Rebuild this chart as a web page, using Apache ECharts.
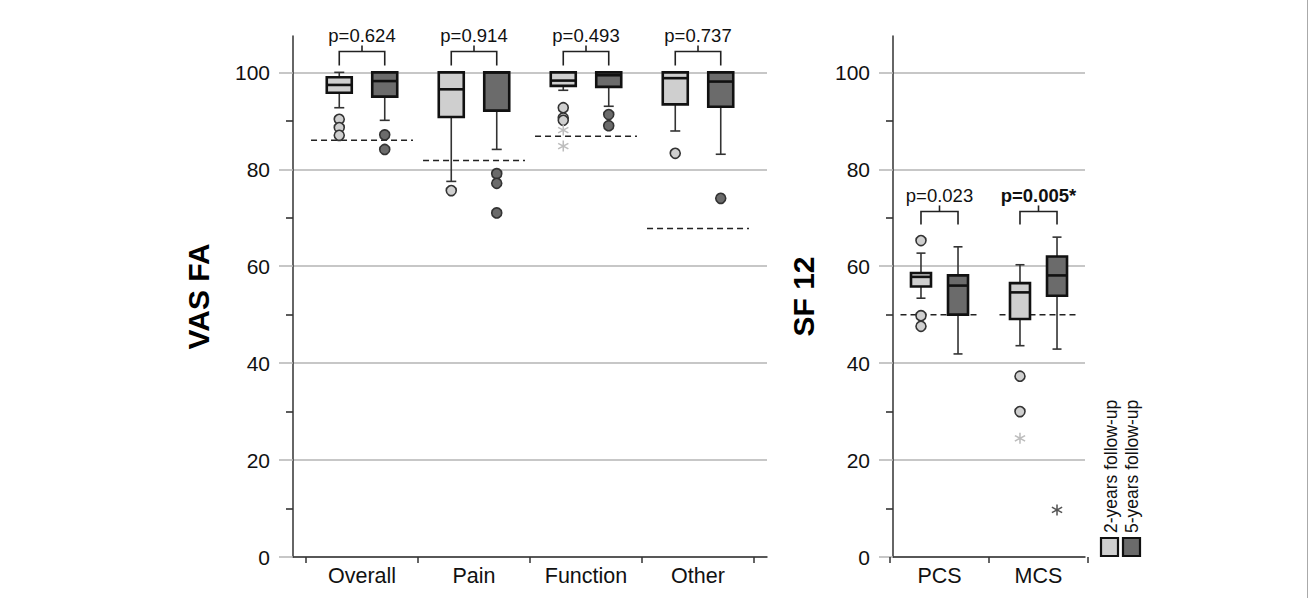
<!DOCTYPE html>
<html><head><meta charset="utf-8">
<script src="https://cdn.jsdelivr.net/npm/echarts@6/dist/echarts.min.js"></script>
<style>html,body{margin:0;padding:0;background:#fff}#chart{width:1310px;height:598px}</style>
</head><body><div id="chart"></div>
<script>
// ---------------- DATA ----------------
const vasCategories = ['Overall', 'Pain', 'Function', 'Other'];
// [min, Q1, median, Q3, max]
const vas2yBoxes = [[92.7, 95.8, 97.4, 99.0, 100], [77.5, 90.8, 96.5, 100, 100], [96.3, 97.2, 98.3, 100, 100], [87.9, 93.4, 98.8, 100, 100]];
const vas5yBoxes = [[90.1, 95.0, 98.2, 100, 100], [84.1, 92.1, 100, 100, 100], [93.0, 97.0, 99.4, 100, 100], [83.1, 92.9, 98.1, 100, 100]];
const vas2yOutliers = [[90.3, 88.6, 87.0], [75.6], [92.7, 90.6, 90.1], [83.3]];
const vas2yExtremes = [[], [], [88.1, 84.8], []];
const vas5yOutliers = [[87.1, 84.1], [79.1, 77.1, 71.0], [91.3, 89.0], [74.0]];
const vas5yExtremes = [[], [], [], []];
const vasNorms = [86.0, 81.8, 86.8, 67.8];
const vasPValues = ['p=0.624', 'p=0.914', 'p=0.493', 'p=0.737'];

const sfCategories = ['PCS', 'MCS'];
const sf2yBoxes = [[53.4, 55.8, 57.8, 58.6, 62.7], [43.6, 49.1, 54.6, 56.5, 60.3]];
const sf5yBoxes = [[41.9, 50.0, 56.0, 58.1, 64.0], [42.9, 53.9, 58.1, 62.0, 66.0]];
const sf2yOutliers = [[65.3, 49.8, 47.6], [37.3, 30.0]];
const sf2yExtremes = [[], [24.5]];
const sf5yOutliers = [[], []];
const sf5yExtremes = [[], [9.7]];
const sfNorms = [50, 50];
const sfPValues = ['p=0.023', 'p=0.005*'];

const yTickValues = [0, 20, 40, 60, 80, 100];
const yMinorTickValues = [10, 30, 50, 70, 90];
const groupNames = ['2-years follow-up', '5-years follow-up'];

// ---------------- STYLE / LAYOUT ----------------
const FONT = '"Liberation Sans", Arial, sans-serif';
const LIGHT = '#cfcfcf', DARK = '#6b6b6b', INK = '#111', WHISK = '#333', GRID = '#b5b5b5';
const panels = [
  { cats: vasCategories, boxes: [vas2yBoxes, vas5yBoxes], outl: [vas2yOutliers, vas5yOutliers], ext: [vas2yExtremes, vas5yExtremes],
    norms: vasNorms, pv: vasPValues, name: 'VAS FA', nameGap: 80,
    frame: { left: 293, width: 474 }, data: { left: 306, width: 448 },
    off: 0.203, boxW: 25, capW: 10, normHalf: 0.455, bracketLevel: 104.3, legLen: 14 },
  { cats: sfCategories, boxes: [sf2yBoxes, sf5yBoxes], outl: [sf2yOutliers, sf5yOutliers], ext: [sf2yExtremes, sf5yExtremes],
    norms: sfNorms, pv: sfPValues, name: 'SF 12', nameGap: 75,
    frame: { left: 893, width: 192 }, data: { left: 890, width: 198 },
    off: 0.187, boxW: 20, capW: 9, normHalf: 0.394, bracketLevel: 71.3, legLen: 13 }
];
const TOP = 36, HEIGHT = 521, YMAX = 107.5;

function asteriskPath() {
  let d = '';
  [90, 30, 150].forEach(function (deg) {
    const t = deg * Math.PI / 180, dx = Math.cos(t), dy = Math.sin(t), nx = -dy, ny = dx, L = 10, W = 1.3;
    const p = [[L * dx + W * nx, L * dy + W * ny], [L * dx - W * nx, L * dy - W * ny], [-L * dx - W * nx, -L * dy - W * ny], [-L * dx + W * nx, -L * dy + W * ny]];
    d += 'M' + p.map(q => q[0].toFixed(2) + ',' + q[1].toFixed(2)).join('L') + 'Z';
  });
  return 'path://' + d;
}
const ASTERISK = asteriskPath();

const grids = [], xAxes = [], yAxes = [], series = [];
panels.forEach(function (P) {
  const gFrame = grids.length, gData = gFrame + 1, gMinor = gFrame + 2;
  grids.push({ left: P.frame.left, top: TOP, width: P.frame.width, height: HEIGHT });
  grids.push({ left: P.data.left, top: TOP, width: P.data.width, height: HEIGHT });
  grids.push({ left: P.frame.left, top: TOP, width: P.frame.width, height: HEIGHT });
  xAxes.push({ gridIndex: gFrame, type: 'value', min: 0, max: 1, position: 'bottom',
    axisLine: { show: true, onZero: false, lineStyle: { color: '#333', width: 1.5 } },
    axisTick: { show: false }, axisLabel: { show: false }, splitLine: { show: false } });
  xAxes.push({ gridIndex: gData, type: 'category', data: P.cats, position: 'bottom',
    axisLine: { show: false, onZero: false },
    axisTick: { show: true, length: 6, lineStyle: { color: '#333', width: 1.5 } },
    axisLabel: { margin: 8, fontSize: 21.5, color: INK, fontFamily: FONT } });
  const xVal = xAxes.length;
  xAxes.push({ gridIndex: gData, type: 'value', show: false, min: -0.5, max: P.cats.length - 0.5, position: 'bottom',
    axisLine: { onZero: false } });
  // helper x axis for the minor-tick grid (zero at the left edge)
  xAxes.push({ gridIndex: gMinor, type: 'value', min: 0, max: 1, show: false });
  // frame y axis: labels, major ticks, grid lines
  yAxes.push({ gridIndex: gFrame, type: 'value', min: 0, max: YMAX, position: 'left',
    axisLine: { show: true, onZero: false, lineStyle: { color: '#333', width: 1.5 } },
    axisTick: { show: true, customValues: yTickValues, length: 14, lineStyle: { color: GRID, width: 1.5 } },
    axisLabel: { customValues: yTickValues, margin: 23, fontSize: 21, color: INK, fontFamily: FONT },
    splitLine: { show: true, lineStyle: { color: GRID, width: 1.5 } },
    name: P.name, nameLocation: 'middle', nameGap: P.nameGap,
    nameTextStyle: { fontSize: 30, fontWeight: 'bold', color: '#000', fontFamily: FONT } });
  // data y axis (hidden)
  const yData = yAxes.length;
  yAxes.push({ gridIndex: gData, type: 'value', show: false, min: 0, max: YMAX, position: 'left',
    axisLine: { show: false, onZero: false }, splitLine: { show: false } });
  // minor ticks axis (own grid, same rect as frame)
  yAxes.push({ gridIndex: gMinor, type: 'value', min: 0, max: YMAX,
    axisLine: { show: false }, axisLabel: { show: false }, splitLine: { show: false },
    axisTick: { show: true, customValues: yMinorTickValues, length: 7, lineStyle: { color: '#333', width: 1.6 } } });

  // norm dashed lines
  series.push({ type: 'custom', name: 'norm', xAxisIndex: xVal, yAxisIndex: yData, silent: true, z: 2,
    data: P.norms.map((v, i) => [i, v]), encode: { x: 0, y: 1 },
    renderItem: function (params, api) {
      const i = api.value(0), v = api.value(1);
      const a = api.coord([i - P.normHalf, v]), b = api.coord([i + P.normHalf, v]);
      return { type: 'line', shape: { x1: a[0], y1: a[1], x2: b[0], y2: b[1] },
        style: { stroke: '#222', lineWidth: 1.5, lineDash: [6, 4] } };
    } });

  [0, 1].forEach(function (g) {
    const off = g === 0 ? -P.off : P.off;
    const fill = g === 0 ? LIGHT : DARK;
    series.push({ type: 'custom', name: groupNames[g], xAxisIndex: xVal, yAxisIndex: yData, z: 3,
      data: P.boxes[g].map((b, i) => [i + off].concat(b)), encode: { x: 0, y: [1, 2, 3, 4, 5] },
      renderItem: function (params, api) {
        const x = api.value(0);
        const c = v => api.coord([x, v]);
        const pMin = c(api.value(1)), pQ1 = c(api.value(2)), pMed = c(api.value(3)), pQ3 = c(api.value(4)), pMax = c(api.value(5));
        const cx = pMin[0], h = P.boxW / 2, ch = P.capW / 2;
        const wl = { stroke: WHISK, lineWidth: 1.6 };
        return { type: 'group', children: [
          { type: 'line', shape: { x1: cx, y1: pQ3[1], x2: cx, y2: pMax[1] }, style: wl },
          { type: 'line', shape: { x1: cx - ch, y1: pMax[1], x2: cx + ch, y2: pMax[1] }, style: wl },
          { type: 'line', shape: { x1: cx, y1: pQ1[1], x2: cx, y2: pMin[1] }, style: wl },
          { type: 'line', shape: { x1: cx - ch, y1: pMin[1], x2: cx + ch, y2: pMin[1] }, style: wl },
          { type: 'rect', shape: { x: cx - h, y: pQ3[1], width: P.boxW, height: pQ1[1] - pQ3[1] }, style: { fill: fill, stroke: INK, lineWidth: 2.6 } },
          { type: 'line', shape: { x1: cx - h, y1: pMed[1], x2: cx + h, y2: pMed[1] }, style: { stroke: INK, lineWidth: 2.6 } }
        ] };
      } });
    const outData = [];
    P.outl[g].forEach((arr, i) => arr.forEach(v => outData.push([i + off, v])));
    series.push({ type: 'scatter', name: groupNames[g] + ' outliers', xAxisIndex: xVal, yAxisIndex: yData, z: 4,
      symbol: 'circle', symbolSize: 10, data: outData,
      itemStyle: { color: fill, borderColor: '#333', borderWidth: 1.6, opacity: 1 } });
    const extData = [];
    P.ext[g].forEach((arr, i) => arr.forEach(v => extData.push([i + off, v])));
    series.push({ type: 'scatter', name: groupNames[g] + ' extremes', xAxisIndex: xVal, yAxisIndex: yData, z: 4,
      symbol: ASTERISK, symbolSize: 11, data: extData,
      itemStyle: { color: g === 0 ? '#bdbdbd' : '#555', opacity: 1 } });
  });

  // brackets with p-values
  series.push({ type: 'custom', name: 'p-values', xAxisIndex: xVal, yAxisIndex: yData, silent: true, z: 5,
    data: P.cats.map((c, i) => [i, P.bracketLevel]), encode: { x: 0, y: 1 },
    renderItem: function (params, api) {
      const i = api.value(0), lvl = api.value(1);
      const L = api.coord([i - P.off, lvl]), R = api.coord([i + P.off, lvl]), M = api.coord([i, lvl]);
      const y = L[1];
      const label = P.pv[params.dataIndex];
      const st = { stroke: '#222', lineWidth: 1.6, fill: null };
      return { type: 'group', children: [
        { type: 'polyline', shape: { points: [[L[0], y + P.legLen], [L[0], y], [R[0], y], [R[0], y + P.legLen]] }, style: st },
        { type: 'line', shape: { x1: M[0], y1: y, x2: M[0], y2: y - 6 }, style: st },
        { type: 'text', x: M[0], y: y - 16, style: { text: label, fill: INK, fontSize: 18.5, fontFamily: FONT,
          fontWeight: label.indexOf('*') >= 0 ? 'bold' : 'normal', align: 'center', verticalAlign: 'middle' } }
      ] };
    } });
});

const option = {
  backgroundColor: '#fff',
  animation: false,
  grid: grids, xAxis: xAxes, yAxis: yAxes, series: series,
  graphic: [
    { type: 'rect', shape: { x: 1101, y: 538, width: 17, height: 18 }, style: { fill: LIGHT, stroke: INK, lineWidth: 2.2 } },
    { type: 'rect', shape: { x: 1123, y: 538, width: 17, height: 18 }, style: { fill: DARK, stroke: INK, lineWidth: 2.2 } },
    { type: 'text', x: 1110.5, y: 533, rotation: Math.PI / 2,
      style: { text: groupNames[0], fill: INK, fontSize: 17.5, fontFamily: FONT, align: 'left', verticalAlign: 'middle' } },
    { type: 'text', x: 1131.5, y: 533, rotation: Math.PI / 2,
      style: { text: groupNames[1], fill: INK, fontSize: 17.5, fontFamily: FONT, align: 'left', verticalAlign: 'middle' } },
    { type: 'line', shape: { x1: 1307.5, y1: 0, x2: 1307.5, y2: 598 }, style: { stroke: '#aaa', lineWidth: 1 } }
  ]
};
const chart = echarts.init(document.getElementById('chart'), null, { renderer: 'svg' });
chart.setOption(option);
</script></body></html>
